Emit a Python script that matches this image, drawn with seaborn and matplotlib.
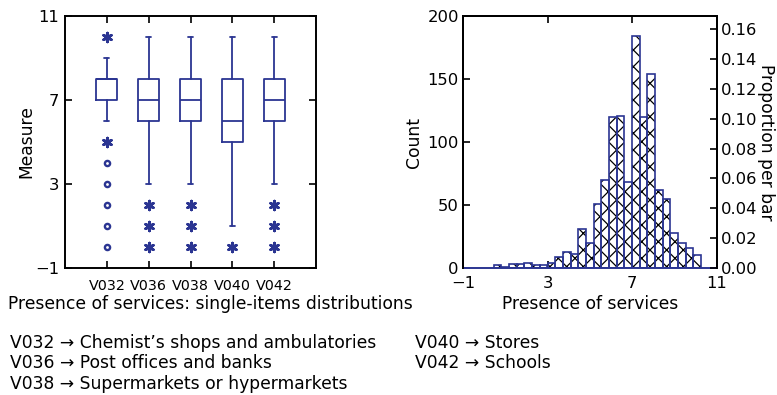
import numpy as np
import pandas as pd
import matplotlib
matplotlib.use("Agg")
import matplotlib.pyplot as plt
import seaborn as sns

# ---------------- data ----------------
variables = ["V032", "V036", "V038", "V040", "V042"]
q1 = [7, 6, 6, 5, 6]
medians = [8, 7, 7, 6, 7]
q3 = [8, 8, 8, 8, 8]
whisker_lo = [6, 3, 3, 1, 3]
whisker_hi = [9, 10, 10, 10, 10]
star_outliers = [[10, 5], [2, 1, 0], [2, 1, 0], [0], [2, 1, 0]]
circle_outliers = [[4, 3, 2, 1, 0], [], [], [], []]

hist_counts = [2, 1, 3, 3, 4, 2, 2, 4, 9, 13, 11, 31, 20, 51, 70, 120,
               121, 68, 184, 120, 154, 62, 55, 28, 20, 16, 10]
bin_start = 5 / 11
bin_width = 4 / 11

box_ticks = [-1, 3, 7, 11]
hist_xticks = [-1, 3, 7, 11]
count_ticks = [0, 50, 100, 150, 200]
prop_ticks = [0.00, 0.02, 0.04, 0.06, 0.08, 0.10, 0.12, 0.14, 0.16]

legend_left = ["V032 \u2192 Chemist\u2019s shops and ambulatories",
               "V036 \u2192 Post offices and banks",
               "V038 \u2192 Supermarkets or hypermarkets"]
legend_right = ["V040 \u2192 Stores", "V042 \u2192 Schools"]

# ---------------- style ----------------
sns.set_theme(style="ticks")
plt.rcParams["font.family"] = ["DejaVu Sans"]
plt.rcParams["hatch.linewidth"] = 0.9
for k in ("text.color", "axes.labelcolor", "xtick.color", "ytick.color",
          "xtick.labelcolor", "ytick.labelcolor"):
    plt.rcParams[k] = "black"
BLUE = "#2B3592"
FS_LAB = 12.3
FS_TICK = 11.8
FS_CAT = 10.3

W, H = 777, 395
fig = plt.figure(figsize=(W / 100, H / 100), dpi=100)
ax1 = fig.add_axes([65 / W, 1 - 268 / H, 251 / W, 252 / H])
ax2 = fig.add_axes([463 / W, 1 - 268 / H, 253.5 / W, 252 / H])

# ---------------- box plot ----------------
positions = np.arange(1, len(variables) + 1)
stats = []
for i, v in enumerate(variables):
    stats.append(dict(label=v, q1=q1[i], med=medians[i], q3=q3[i],
                      whislo=whisker_lo[i], whishi=whisker_hi[i], fliers=[]))
lprops = dict(color=BLUE, linewidth=1.3)
ax1.bxp(stats, positions=positions, widths=0.5, showfliers=False,
        boxprops=lprops, whiskerprops=lprops, capprops=lprops,
        medianprops=lprops, capwidths=0.12)

star_df = pd.DataFrame([(positions[i], y) for i, ys in enumerate(star_outliers) for y in ys],
                       columns=["pos", "val"])
circ_df = pd.DataFrame([(positions[i], y) for i, ys in enumerate(circle_outliers) for y in ys],
                       columns=["pos", "val"])
sns.scatterplot(data=star_df, x="pos", y="val", ax=ax1, marker=(6, 2, 0),
                s=40, color=BLUE, linewidth=2.0, zorder=5)
sns.scatterplot(data=circ_df, x="pos", y="val", ax=ax1, marker="o",
                s=14, facecolor="white", edgecolor=BLUE, linewidth=1.7, zorder=5)

ax1.set_xlim(0, len(variables) + 1)
ax1.set_ylim(-1, 11)
ax1.set_xticks(positions)
ax1.set_xticklabels(variables, fontsize=FS_CAT)
ax1.set_yticks(box_ticks)
ax1.set_yticklabels(["\u22121" if t < 0 else str(t) for t in box_ticks], fontsize=FS_TICK)
ax1.set_xlabel("")
ax1.set_ylabel("Measure", fontsize=FS_LAB, labelpad=0)
ax1.tick_params(direction="in", top=True, right=True, length=5, width=1.2,
                colors="black", pad=4)
ax1.tick_params(axis="x", pad=8)

# ---------------- histogram ----------------
edges = bin_start + bin_width * np.arange(len(hist_counts) + 1)
centers = edges[:-1] + bin_width / 2
hdf = pd.DataFrame({"x": centers, "w": hist_counts})
brange = (float(edges[0]), float(edges[-1]))
sns.histplot(data=hdf, x="x", weights="w", binwidth=bin_width, binrange=brange,
             ax=ax2, stat="count", color="white", edgecolor="black", hatch="xx",
             linewidth=0, alpha=1)
sns.histplot(data=hdf, x="x", weights="w", binwidth=bin_width, binrange=brange,
             ax=ax2, stat="count", fill=False, color=BLUE, linewidth=1.2)
ax2.set_xlim(-1, 11)
ax2.set_ylim(0, 200)
ax2.set_xticks(hist_xticks)
ax2.set_xticklabels(["\u22121" if t < 0 else str(t) for t in hist_xticks], fontsize=FS_TICK)
ax2.set_yticks(count_ticks)
ax2.set_yticklabels([str(t) for t in count_ticks], fontsize=FS_TICK)
ax2.set_xlabel("Presence of services", fontsize=FS_LAB)
ax2.xaxis.set_label_coords(0.5, -(304 - 268) / 252)
ax2.xaxis.label.set_va("center")
ax2.set_ylabel("Count", fontsize=FS_LAB, labelpad=3)
ax2.tick_params(direction="in", top=True, right=False, length=5, width=1.2, pad=3)
ax2.tick_params(axis="x", pad=6)

N = sum(hist_counts)
ax3 = ax2.twinx()
ax3.set_ylim(0, 200 / N)
ax3.set_yticks(prop_ticks)
ax3.set_yticklabels([f"{t:.2f}" for t in prop_ticks], fontsize=FS_TICK)
ax3.tick_params(direction="in", length=5, width=1.2, pad=3)
ax3.set_ylabel("Proportion per bar", fontsize=FS_LAB, rotation=270, labelpad=13)

for a in (ax1, ax2, ax3):
    for name, sp in a.spines.items():
        sp.set_linewidth(1.4)
        sp.set_color("black")
ax2.spines["bottom"].set_color(BLUE)
ax3.spines["bottom"].set_visible(False)

# ---------------- texts ----------------
fig.text(8 / W, 1 - 304 / H, "Presence of services: single-items distributions",
         fontsize=FS_LAB, ha="left", va="center")
for i, line in enumerate(legend_left):
    fig.text(10 / W, 1 - (343 + 20.5 * i) / H, line, fontsize=FS_LAB, ha="left", va="center")
for i, line in enumerate(legend_right):
    fig.text(415 / W, 1 - (343 + 20.5 * i) / H, line, fontsize=FS_LAB, ha="left", va="center")

fig.savefig("out.png", dpi=100)
